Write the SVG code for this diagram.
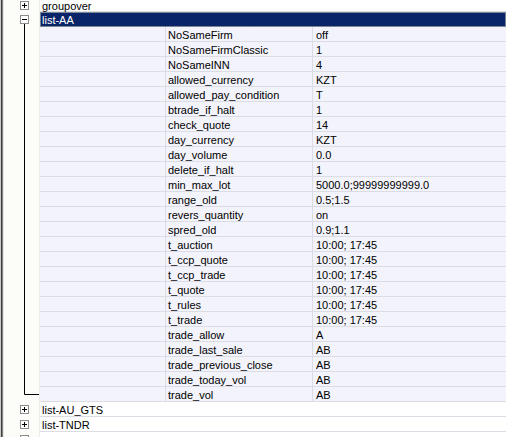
<svg xmlns="http://www.w3.org/2000/svg" width="506" height="437" viewBox="0 0 506 437">
<style>
.t{font-family:"Liberation Sans",Arial,sans-serif;font-size:11px;fill:#000}
.w{fill:#fff}
.grid{stroke:#dcdce4;stroke-width:1}
.box{fill:#fff;stroke:#8c8c8c;stroke-width:1}
.glyph{stroke:#000;stroke-width:1}
.tree{stroke:#000;stroke-width:1;fill:none}
</style>
<defs>
<g id="plus"><rect class="box" x="0.5" y="0.5" width="8" height="8"/><path class="glyph" d="M2 4.5h5M4.5 2v5"/></g>
<g id="minus"><rect class="box" x="0.5" y="0.5" width="8" height="8"/><path class="glyph" d="M2 4.5h5"/></g>
</defs>
<rect x="0" y="0" width="506" height="437" fill="#fff"/>
<rect x="4" y="0" width="35" height="437" fill="#fcfcf8"/>
<rect x="39" y="0" width="1" height="437" fill="#ececec"/>
<!-- left border -->
<rect x="0" y="0" width="1" height="437" fill="#c8c8c8"/>
<rect x="1" y="0" width="1" height="437" fill="#404040"/>
<rect x="2" y="0" width="1" height="437" fill="#808080"/>
<rect x="3" y="0" width="1" height="437" fill="#e8e8e0"/>
<!-- property area -->
<rect x="40" y="27" width="466" height="375" fill="#f3f3fb"/>
<g id="grid">
<path class="grid" d="M40 11.5H506M40 41.5H506M40 56.5H506M40 71.5H506M40 86.5H506M40 101.5H506M40 116.5H506M40 131.5H506M40 146.5H506M40 161.5H506M40 176.5H506M40 191.5H506M40 206.5H506M40 221.5H506M40 236.5H506M40 251.5H506M40 266.5H506M40 281.5H506M40 296.5H506M40 311.5H506M40 326.5H506M40 341.5H506M40 356.5H506M40 371.5H506M40 386.5H506M40 401.5H506M40 416.5H506M40 431.5H506"/>
<path class="grid" d="M165.5 27V401M312.5 27V401"/>
</g>
<g id="connectors">
<path class="tree" d="M24.5 24V394.5H39"/>
</g>
<g id="groupover">
<use href="#plus" x="20" y="1"/>
<text class="t" x="42" y="9.5">groupover</text>
</g>
<g id="list-AA">
<rect x="40" y="12" width="466" height="15" fill="#0a246a"/>
<rect x="40.5" y="12.5" width="465" height="14" fill="none" stroke="#f0e8c0" stroke-dasharray="1 1"/>
<use href="#minus" x="20" y="15"/>
<text class="t w" x="42" y="24">list-AA</text>
</g>
<g id="properties" class="t">
<text x="168" y="39">NoSameFirm</text><text x="316" y="39">off</text>
<text x="168" y="54">NoSameFirmClassic</text><text x="316" y="54">1</text>
<text x="168" y="69">NoSameINN</text><text x="316" y="69">4</text>
<text x="168" y="84">allowed_currency</text><text x="316" y="84">KZT</text>
<text x="168" y="99">allowed_pay_condition</text><text x="316" y="99">T</text>
<text x="168" y="114">btrade_if_halt</text><text x="316" y="114">1</text>
<text x="168" y="129">check_quote</text><text x="316" y="129">14</text>
<text x="168" y="144">day_currency</text><text x="316" y="144">KZT</text>
<text x="168" y="159">day_volume</text><text x="316" y="159">0.0</text>
<text x="168" y="174">delete_if_halt</text><text x="316" y="174">1</text>
<text x="168" y="189">min_max_lot</text><text x="316" y="189">5000.0;99999999999.0</text>
<text x="168" y="204">range_old</text><text x="316" y="204">0.5;1.5</text>
<text x="168" y="219">revers_quantity</text><text x="316" y="219">on</text>
<text x="168" y="234">spred_old</text><text x="316" y="234">0.9;1.1</text>
<text x="168" y="249">t_auction</text><text x="316" y="249">10:00; 17:45</text>
<text x="168" y="264">t_ccp_quote</text><text x="316" y="264">10:00; 17:45</text>
<text x="168" y="279">t_ccp_trade</text><text x="316" y="279">10:00; 17:45</text>
<text x="168" y="294">t_quote</text><text x="316" y="294">10:00; 17:45</text>
<text x="168" y="309">t_rules</text><text x="316" y="309">10:00; 17:45</text>
<text x="168" y="324">t_trade</text><text x="316" y="324">10:00; 17:45</text>
<text x="168" y="339">trade_allow</text><text x="316" y="339">A</text>
<text x="168" y="354">trade_last_sale</text><text x="316" y="354">AB</text>
<text x="168" y="369">trade_previous_close</text><text x="316" y="369">AB</text>
<text x="168" y="384">trade_today_vol</text><text x="316" y="384">AB</text>
<text x="168" y="399">trade_vol</text><text x="316" y="399">AB</text>
</g>
<g id="list-AU_GTS">
<use href="#plus" x="20" y="405"/>
<text class="t" x="42" y="414">list-AU_GTS</text>
</g>
<g id="list-TNDR">
<use href="#plus" x="20" y="420"/>
<text class="t" x="42" y="429">list-TNDR</text>
</g>
<g id="next-row">
<use href="#plus" x="20" y="435"/>
</g>
</svg>
